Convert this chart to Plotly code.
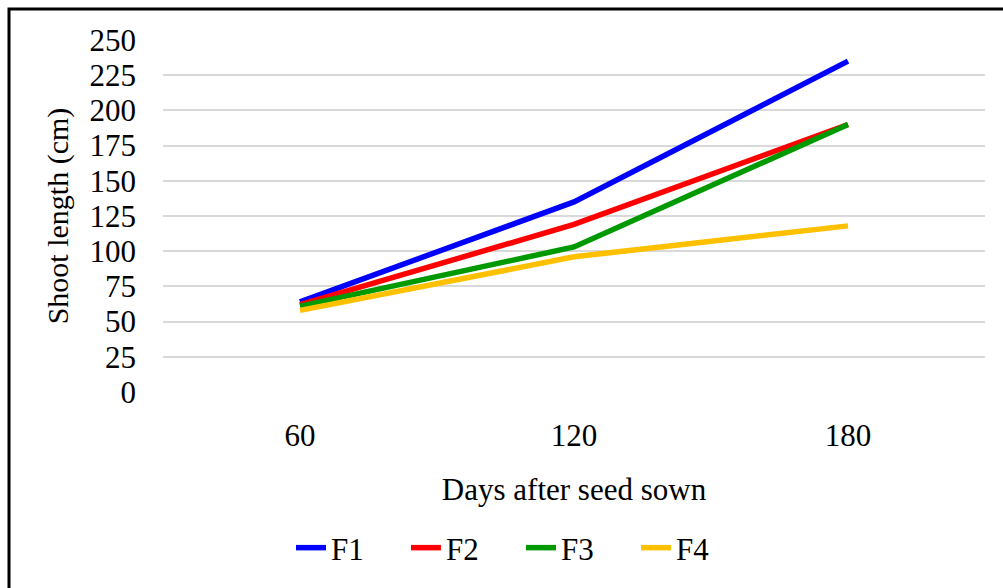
import plotly.graph_objects as go

days = ["60", "120", "180"]
f1 = [64, 135, 235]
f2 = [62, 119, 190]
f3 = [61, 103, 190]
f4 = [58, 96, 118]

series = [("F1", f1, "#0000FF"), ("F2", f2, "#FF0000"),
          ("F3", f3, "#009A00"), ("F4", f4, "#FFC000")]

font_family = "Liberation Serif"

fig = go.Figure()
for name, vals, color in series:
    fig.add_trace(go.Scatter(x=days, y=vals, name=name, mode="lines",
                             line=dict(color=color, width=5.5)))

L, R, T, B = 163, 18, 40, 196
W, H = 1003, 588
pw, ph = W - L - R, H - T - B
bottom_px = H - B


def px_x(px):
    return (px - L) / pw


def px_y(py):
    return (bottom_px - py) / ph


# outer frame; only its left and top edges fall inside the page
fig.add_shape(type="rect", xref="paper", yref="paper",
              x0=px_x(9), x1=px_x(1020), y0=px_y(610), y1=px_y(9),
              line=dict(color="black", width=3), fillcolor="rgba(0,0,0,0)",
              layer="above")

fig.update_layout(
    width=W, height=H,
    margin=dict(l=L, r=R, t=T, b=B),
    plot_bgcolor="white", paper_bgcolor="white",
    font=dict(family=font_family, size=31, color="#000000"),
    showlegend=True,
    legend=dict(orientation="h", x=px_x(521), xanchor="center", y=px_y(548), yanchor="middle",
                font=dict(size=31), itemwidth=30, entrywidth=70, tracegroupgap=0),
    xaxis=dict(type="category", range=[-0.5, 2.5], showgrid=False, showline=False,
               zeroline=False, ticks="", tickfont=dict(size=31), ticklabelstandoff=22,
               title=dict(text="Days after seed sown", font=dict(size=31), standoff=26)),
    yaxis=dict(range=[0, 250], tick0=0, dtick=25, showgrid=True,
               gridcolor="#D9D9D9", gridwidth=2, zeroline=False, showline=False,
               ticks="", tickfont=dict(size=31), ticklabelstandoff=26,
               title=dict(text="Shoot length (cm)", font=dict(size=30), standoff=12)),
)

fig.write_html("out.html")
